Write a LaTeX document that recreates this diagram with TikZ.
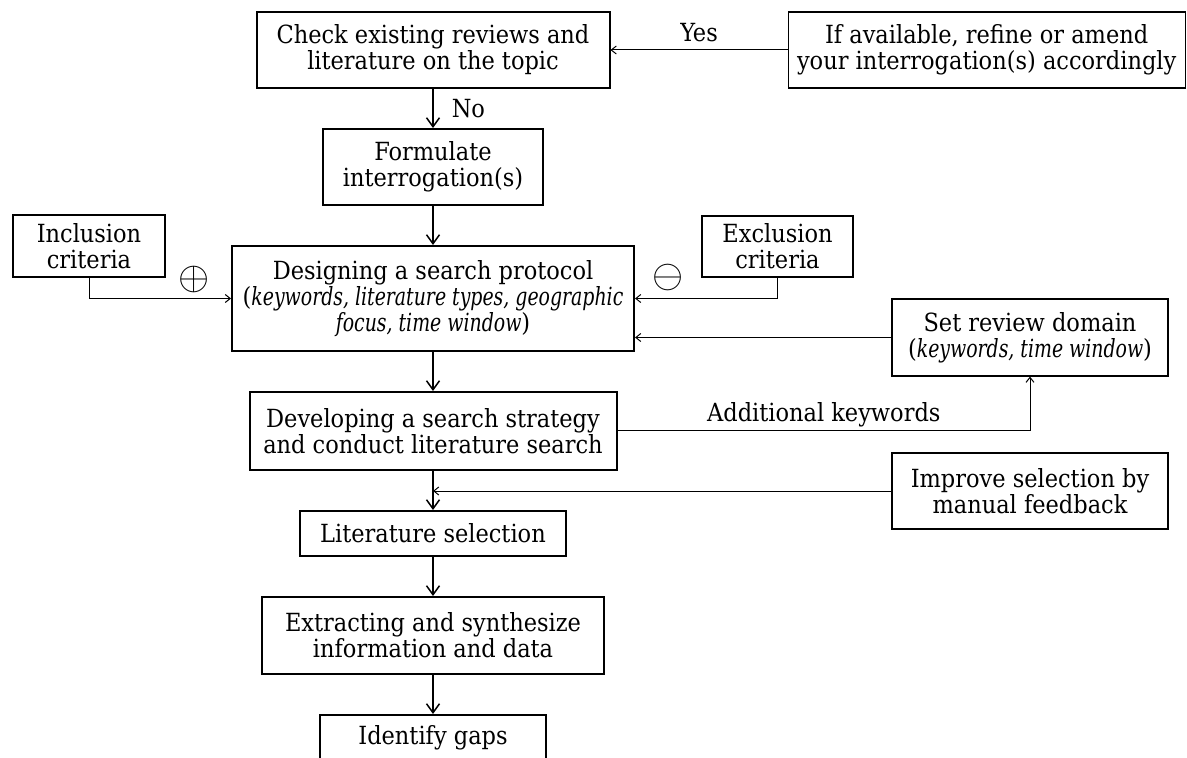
\documentclass[tikz,border=0pt]{standalone}
\usepackage{fontspec}
\setmainfont{DejaVuSerifCondensed}[Extension=.ttf, UprightFont=*, ItalicFont=*-Italic,
  BoldFont=*-Bold, ItalicFeatures={FakeStretch=0.84}]
\usetikzlibrary{arrows.meta, positioning}
\newcommand{\boxfont}{\fontsize{12.5}{13}\selectfont}
\tikzset{
  mainbox/.style={draw, line width=1pt, minimum width=#1, align=center,
      font=\boxfont, inner sep=2pt},
  sidebox/.style={draw, line width=0.6pt, minimum width=#1, align=center,
      font=\boxfont, inner sep=2pt},
  flowarrow/.style={-{Straight Barb[length=4.5pt,width=6.5pt]}, line width=0.75pt},
  sidearrow/.style={-{Straight Barb[length=2.5pt,width=4pt]}, line width=0.5pt},
  flowlbl/.style={font=\boxfont, inner sep=1pt},
  signmark/.style={font=\normalsize, inner sep=0pt},
}

\begin{document}
\begin{tikzpicture}[x=0.5pt, y=-0.5pt, node distance=19.5pt]
  \path[use as bounding box] (0,0) rectangle (1187,758);
  \clip (0,0) rectangle (1187,758);

  % main column
  \node[mainbox=176.5pt, minimum height=38pt] (check) at (433,50) {Check existing reviews and\\literature on the topic};
  \node[mainbox=110pt, minimum height=38pt, below=of check] (formulate) {Formulate\\interrogation(s)};
  \node[mainbox=201pt, minimum height=52.5pt, below=of formulate] (design) {Designing a search protocol\\(\textit{keywords, literature types, geographic}\\\textit{focus, time window})};
  \node[mainbox=183.5pt, minimum height=39pt, below=of design] (develop) {Developing a search strategy\\and conduct literature search};
  \node[mainbox=133pt, minimum height=22.5pt, below=of develop] (select) {Literature selection};
  \node[mainbox=171pt, minimum height=38.5pt, below=of select] (extract) {Extracting and synthesize\\information and data};
  \node[mainbox=113pt, minimum height=22.5pt, below=of extract] (gaps) {Identify gaps};

  % side boxes
  \node[sidebox=198.5pt, minimum height=38pt, right=88.5pt of check] (refine) {If available, refine or amend\\your interrogation(s) accordingly};
  \node[sidebox=76pt, minimum height=31pt] (incl) at (89,246) {Inclusion\\criteria};
  \node[sidebox=75.5pt, minimum height=30.5pt] (excl) at (777.5,246.5) {Exclusion\\criteria};
  \node[sidebox=138pt, minimum height=38.5pt] (domain) at (1030,337.5) {Set review domain\\(\textit{keywords, time window})};
  \node[sidebox=138pt, minimum height=38pt] (improve) at (1030,491) {Improve selection by\\manual feedback};
  \node[signmark] (plus) at (194,280) {\scalebox{2}{$\oplus$}};
  \node[signmark] (minus) at (668,278) {\scalebox{2}{$\ominus$}};

  % connectors
  \draw[flowarrow] (check) -- node[flowlbl, right=8pt] {No} (formulate);
  \draw[flowarrow] (formulate) -- (design);
  \draw[flowarrow] (design) -- (develop);
  \draw[flowarrow] (develop) -- (select);
  \draw[flowarrow] (select) -- (extract);
  \draw[flowarrow] (extract) -- (gaps);
  \draw[sidearrow] (refine) -- node[flowlbl, above=3pt] {Yes} (check);
  \draw[sidearrow] (incl.south) |- (design.west);
  \draw[sidearrow] (excl.south) |- (design.east);
  \draw[sidearrow] (domain.west) -- (domain.west -| design.east);
  \draw[sidearrow] (develop.east) -| node[flowlbl, pos=0.25, above=0.5pt] {Additional keywords} (domain.south);
  \draw[sidearrow] (improve.west) -- (improve.west -| develop.south);
\end{tikzpicture}
\end{document}
